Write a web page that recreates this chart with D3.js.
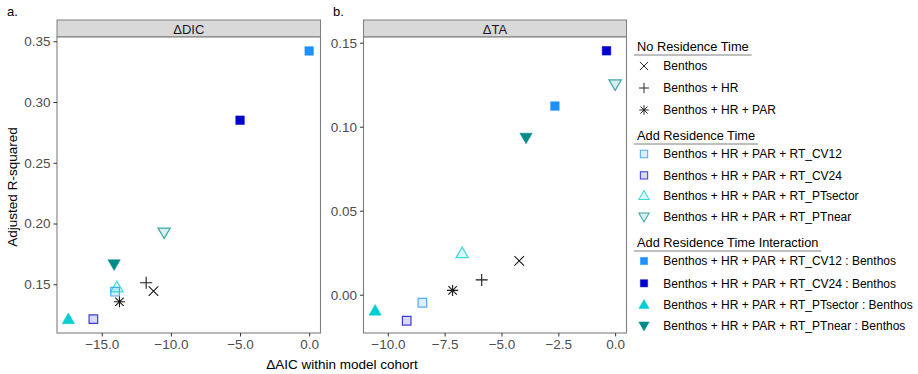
<!DOCTYPE html>
<html>
<head>
<meta charset="utf-8">
<script src="https://cdn.jsdelivr.net/npm/d3@7"></script>
<style>
  body { margin: 0; background: #fff; }
  svg text { font-family: "Liberation Sans", Arial, sans-serif; }
</style>
</head>
<body>
<svg id="chart" width="918" height="374"></svg>
<script>
// model names, in legend order
const models = [
  "Benthos",
  "Benthos + HR",
  "Benthos + HR + PAR",
  "Benthos + HR + PAR + RT_CV12",
  "Benthos + HR + PAR + RT_CV24",
  "Benthos + HR + PAR + RT_PTsector",
  "Benthos + HR + PAR + RT_PTnear",
  "Benthos + HR + PAR + RT_CV12 : Benthos",
  "Benthos + HR + PAR + RT_CV24 : Benthos",
  "Benthos + HR + PAR + RT_PTsector : Benthos",
  "Benthos + HR + PAR + RT_PTnear : Benthos"
];
const groups = ["No Residence Time", "Add Residence Time", "Add Residence Time Interaction"];

// ΔDIC panel
const dicAIC = [-11.26, -11.79, -13.72, -14.04, -15.61, -13.91, -10.49, 0.0, -5.0, -17.42, -14.11];
const dicR2  = [0.1444, 0.1513, 0.1356, 0.1439, 0.1213, 0.1475, 0.1926, 0.342, 0.285, 0.1213, 0.1665];
// ΔTA panel
const taAIC = [-4.22, -5.87, -7.15, -8.48, -9.17, -6.73, 0.0, -2.65, -0.38, -10.56, -3.92];
const taR2  = [0.0201, 0.0088, 0.0026, -0.0048, -0.0155, 0.0247, 0.1252, 0.1123, 0.1452, -0.0095, 0.0935];

const dicXTicks = [-15, -10, -5, 0];
const dicYTicks = [0.15, 0.20, 0.25, 0.30, 0.35];
const taXTicks = [-10, -7.5, -5, -2.5, 0];
const taYTicks = [0.00, 0.05, 0.10, 0.15];

// shape / colour per model
const shapes = ["times", "plus", "asterisk", "square", "square", "triUp", "triDown", "square", "square", "triUp", "triDown"];
const filled = [false, false, false, false, false, false, false, true, true, true, true];
const colors = ["#1a1a1a", "#1a1a1a", "#1a1a1a", "#1E90FF", "#0000CD", "#00CED1", "#008B8B",
                "#1E90FF", "#0000CD", "#00CED1", "#008B8B"];

function shapePath(kind) {
  const p = d3.path();
  if (kind === "times") {
    const r = 4.8;
    p.moveTo(-r, -r); p.lineTo(r, r); p.moveTo(-r, r); p.lineTo(r, -r);
  } else if (kind === "plus") {
    const r = 6;
    p.moveTo(-r, 0); p.lineTo(r, 0); p.moveTo(0, -r); p.lineTo(0, r);
  } else if (kind === "asterisk") {
    const r = 5.6, d = 4.2;
    p.moveTo(-r, 0); p.lineTo(r, 0); p.moveTo(0, -r); p.lineTo(0, r);
    p.moveTo(-d, -d); p.lineTo(d, d); p.moveTo(-d, d); p.lineTo(d, -d);
  } else if (kind === "square") {
    const r = 4.3;
    p.rect(-r, -r, 2 * r, 2 * r);
  } else if (kind === "triUp") {
    const h = 5.6;
    p.moveTo(0, -h * 1.1); p.lineTo(h * 1.1, h * 0.8); p.lineTo(-h * 1.1, h * 0.8); p.closePath();
  } else if (kind === "triDown") {
    const h = 5.6;
    p.moveTo(0, h * 1.1); p.lineTo(h * 1.1, -h * 0.8); p.lineTo(-h * 1.1, -h * 0.8); p.closePath();
  }
  return p.toString();
}

function drawMark(g, i, x, y, small) {
  const el = g.append("path")
    .attr("transform", `translate(${x},${y})` + (small ? " scale(0.85)" : ""))
    .attr("d", shapePath(shapes[i]));
  if (["times", "plus", "asterisk"].includes(shapes[i])) {
    el.attr("fill", "none").attr("stroke", colors[i]).attr("stroke-width", 1.1);
  } else if (filled[i]) {
    el.attr("fill", colors[i]).attr("stroke", colors[i]).attr("stroke-width", 0.5);
  } else {
    el.attr("fill", colors[i]).attr("fill-opacity", 0.15)
      .attr("stroke", colors[i]).attr("stroke-opacity", 0.75).attr("stroke-width", 1.2);
  }
}

const svg = d3.select("#chart");
const stripTop = 20, plotTop = 37, plotBottom = 333;

const panels = [
  { tag: "a.", title: "ΔDIC", left: 57, right: 320.5, xd: [-18.24, 0.82], yd: [0.1099, 0.3535],
    xs: dicAIC, ys: dicR2, xt: dicXTicks, yt: dicYTicks, tagX: 7 },
  { tag: "b.", title: "ΔTA", left: 363.5, right: 626.5, xd: [-11.07, 0.50], yd: [-0.0228, 0.1534],
    xs: taAIC, ys: taR2, xt: taXTicks, yt: taYTicks, tagX: 333 }
];

panels.forEach(pn => {
  const x = d3.scaleLinear().domain(pn.xd).range([pn.left, pn.right]);
  const y = d3.scaleLinear().domain(pn.yd).range([plotBottom, plotTop]);
  const g = svg.append("g");

  g.append("text").attr("x", pn.tagX).attr("y", 16).attr("font-size", 13).attr("fill", "#000").text(pn.tag);

  // strip
  g.append("rect").attr("x", pn.left).attr("y", stripTop).attr("width", pn.right - pn.left)
    .attr("height", plotTop - stripTop).attr("fill", "#D9D9D9").attr("stroke", "#7f7f7f").attr("stroke-width", 1);
  g.append("text").attr("x", (pn.left + pn.right) / 2).attr("y", 33.5).attr("text-anchor", "middle")
    .attr("font-size", 13).attr("fill", "#1a1a1a").text(pn.title);

  // panel
  g.append("rect").attr("x", pn.left).attr("y", plotTop).attr("width", pn.right - pn.left)
    .attr("height", plotBottom - plotTop).attr("fill", "#fff").attr("stroke", "#7f7f7f").attr("stroke-width", 1.1);

  const xAxis = d3.axisBottom(x).tickValues(pn.xt).tickFormat(d3.format(".1f")).tickSizeOuter(0).tickSize(3.5).tickPadding(3);
  const yAxis = d3.axisLeft(y).tickValues(pn.yt).tickFormat(d3.format(".2f")).tickSizeOuter(0).tickSize(3.5).tickPadding(3);
  const gx = g.append("g").attr("transform", `translate(0,${plotBottom})`).call(xAxis);
  const gy = g.append("g").attr("transform", `translate(${pn.left},0)`).call(yAxis);
  [gx, gy].forEach(a => {
    a.select(".domain").remove();
    a.selectAll(".tick line").attr("stroke", "#333");
    a.selectAll(".tick text").attr("fill", "#4D4D4D").attr("font-size", 13.5)
      .attr("font-family", "Liberation Sans, Arial, sans-serif");
  });

  pn.xs.forEach((v, i) => drawMark(g, i, x(v), y(pn.ys[i]), false));
});

// axis titles
svg.append("text").attr("x", 342).attr("y", 369).attr("text-anchor", "middle")
  .attr("font-size", 13.5).attr("fill", "#000").text("ΔAIC within model cohort");
svg.append("text").attr("transform", "translate(17,187) rotate(-90)").attr("text-anchor", "middle")
  .attr("font-size", 13.5).attr("fill", "#000").text("Adjusted R-squared");

// legend
const lg = svg.append("g");
const titleY = [51, 140, 247];
const itemY = [66, 88, 110, 154, 175.3, 195.7, 216.7, 261, 283.3, 304.7, 325.7];
groups.forEach((gname, k) => {
  const t = lg.append("text").attr("x", 637).attr("y", titleY[k]).attr("font-size", 12.8)
    .attr("fill", "#000").text(gname);
  const w = t.node().getComputedTextLength();
  lg.append("line").attr("x1", 634).attr("x2", 637 + w + 3).attr("y1", titleY[k] + 4).attr("y2", titleY[k] + 4)
    .attr("stroke", "#7f7f7f").attr("stroke-width", 1);
});
models.forEach((m, i) => {
  drawMark(lg, i, 644, itemY[i], true);
  lg.append("text").attr("x", 663.3).attr("y", itemY[i] + 4.2).attr("font-size", 12)
    .attr("fill", "#000").text(m);
});
</script>
</body>
</html>
